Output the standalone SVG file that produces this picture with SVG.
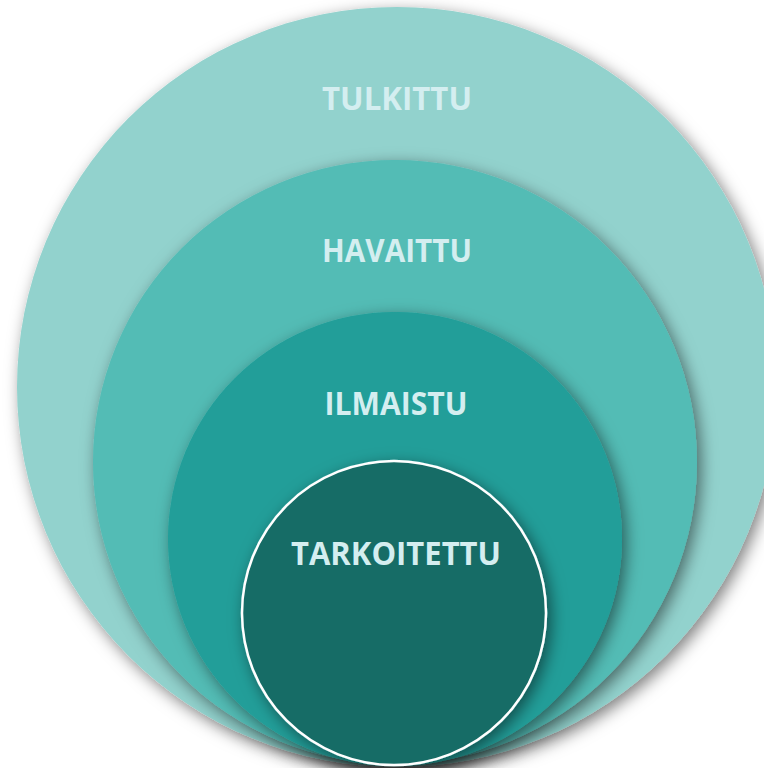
<svg xmlns="http://www.w3.org/2000/svg" width="764" height="768" viewBox="0 0 764 768">
<defs>
<filter id="sh" x="-20%" y="-20%" width="140%" height="140%">
<feDropShadow dx="4" dy="5" stdDeviation="8" flood-color="#000" flood-opacity="0.5"/>
</filter>
<style>
.lbl{font-family:"Source Sans Pro","Open Sans","Noto Sans","Liberation Sans",sans-serif;font-weight:700;font-size:33px;text-anchor:middle;fill:#D4EEF0}
</style>
</defs>
<rect width="764" height="768" fill="#fff"/>
<g id="tulkittu">
<circle cx="397" cy="387" r="380" fill="#92D2CD" filter="url(#sh)"/>
<text class="lbl" x="397" y="110" textLength="150" lengthAdjust="spacingAndGlyphs">TULKITTU</text>
</g>
<g id="havaittu">
<circle cx="395" cy="462" r="302" fill="#52BCB5" filter="url(#sh)"/>
<text class="lbl" x="397" y="262" textLength="150" lengthAdjust="spacingAndGlyphs">HAVAITTU</text>
</g>
<g id="ilmaistu">
<circle cx="395" cy="539" r="227" fill="#209E99" filter="url(#sh)"/>
<text class="lbl" x="396" y="415" textLength="143" lengthAdjust="spacingAndGlyphs">ILMAISTU</text>
</g>
<g id="tarkoitettu">
<circle cx="394" cy="613" r="152" fill="#186C66" stroke="#fff" stroke-width="2.5" filter="url(#sh)"/>
<text class="lbl" x="396" y="565" textLength="210" lengthAdjust="spacingAndGlyphs">TARKOITETTU</text>
</g>
<g id="connectors"/>
</svg>
